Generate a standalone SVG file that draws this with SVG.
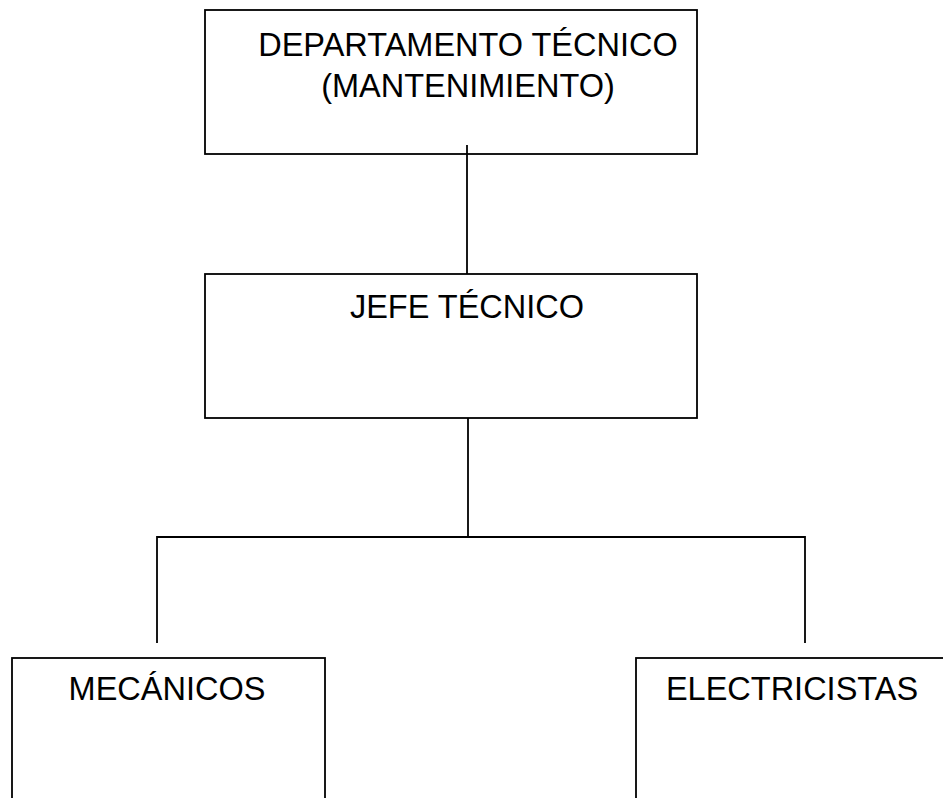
<svg xmlns="http://www.w3.org/2000/svg" width="943" height="798" viewBox="0 0 943 798">
<style>
.box{fill:#fff;stroke:#000;stroke-width:1.8}
.ln{fill:none;stroke:#000;stroke-width:1.8}
text{font-family:"Liberation Sans",Arial,sans-serif;font-size:32.5px;fill:#000;text-anchor:middle}
</style>
<rect width="943" height="798" fill="#fff"/>
<g id="dept">
<rect class="box" x="205" y="10" width="492" height="144"/>
<text x="468" y="56">DEPARTAMENTO TÉCNICO</text>
<text x="468" y="97">(MANTENIMIENTO)</text>
</g>
<g id="jefe">
<rect class="box" x="205" y="274" width="492" height="144"/>
<text x="467" y="318">JEFE TÉCNICO</text>
</g>
<g id="mecanicos">
<rect class="box" x="12" y="658" width="313" height="160"/>
<text x="167" y="700">MECÁNICOS</text>
</g>
<g id="electricistas">
<rect class="box" x="636" y="658" width="313" height="160"/>
<text x="792" y="700">ELECTRICISTAS</text>
</g>
<g id="connectors">
<line class="ln" x1="467" y1="145" x2="467" y2="274"/>
<polyline class="ln" points="468,418 468,537"/>
<polyline class="ln" points="157,643 157,537 805,537 805,643"/>
</g>
</svg>
